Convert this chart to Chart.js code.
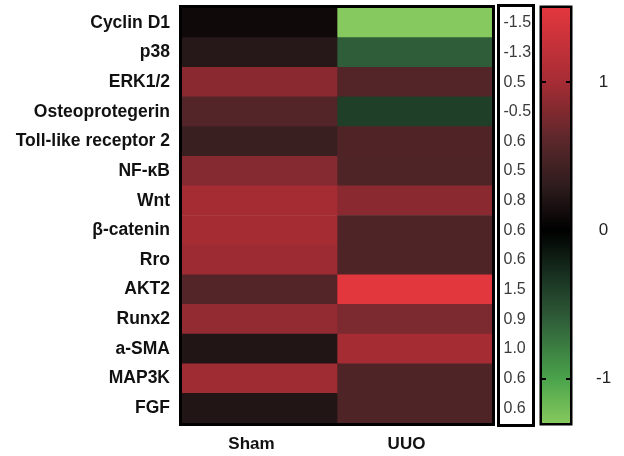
<!DOCTYPE html>
<html lang="en">
<head>
<meta charset="UTF-8">
<title>Heatmap Sham vs UUO</title>
<script src="https://cdn.jsdelivr.net/npm/chart.js"></script>
<style>
    body { margin: 0; background: #ffffff; }
    #wrap { position: relative; width: 624px; height: 456px; }
    #heat { position: absolute; left: 0; top: 0; }
    #bar { position: absolute; left: 536px; top: 0; }
</style>
</head>
<body>
<div id="wrap">
    <canvas id="heat" width="536" height="456"></canvas>
    <canvas id="bar" width="88" height="456"></canvas>
</div>
<script>
// data
const genes = ['Cyclin D1', 'p38', 'ERK1/2', 'Osteoprotegerin', 'Toll-like receptor 2', 'NF-κB', 'Wnt',
               'β-catenin', 'Rro', 'AKT2', 'Runx2', 'a-SMA', 'MAP3K', 'FGF'];
const groups = ['Sham', 'UUO'];
const shamValues = [0.1, 0.25, 0.85, 0.55, 0.38, 0.82, 1.0, 1.0, 0.95, 0.55, 0.9, 0.22, 0.97, 0.22];
const uuoValues = [-1.3, -0.6, 0.55, -0.4, 0.53, 0.52, 0.85, 0.52, 0.52, 1.5, 0.78, 1.0, 0.52, 0.52];
const foldLabels = ['-1.5', '-1.3', '0.5', '-0.5', '0.6', '0.5', '0.8', '0.6', '0.6', '1.5', '0.9', '1.0', '0.6', '0.6'];
const scaleTicks = [-1, 0, 1];
const scaleMin = -1.3;
const scaleMax = 1.5;

// colour scale (green - black - red)
const stopVals = [-1.3, -1.0, -0.6, -0.3, 0, 0.3, 0.6, 1.0, 1.5];
const stopCols = ['#86c95e', '#4aa34b', '#2f5d39', '#183020', '#000000', '#2e1c1d', '#5a272a', '#a62c34', '#e3373e'];

const FONT = "'Liberation Sans', Arial, sans-serif";

function hexRgb(h) {
    return [parseInt(h.slice(1, 3), 16), parseInt(h.slice(3, 5), 16), parseInt(h.slice(5, 7), 16)];
}

function colorFor(v) {
    v = Math.max(stopVals[0], Math.min(stopVals[stopVals.length - 1], v));
    for (let i = 0; i < stopVals.length - 1; i++) {
        if (v <= stopVals[i + 1]) {
            const t = (v - stopVals[i]) / (stopVals[i + 1] - stopVals[i]);
            const a = hexRgb(stopCols[i]), b = hexRgb(stopCols[i + 1]);
            const c = a.map((x, k) => Math.round(x + (b[k] - x) * t));
            return `rgb(${c[0]},${c[1]},${c[2]})`;
        }
    }
    return stopCols[stopCols.length - 1];
}

// no extra room for the end labels, the areas are fixed by layout padding
function fixWidth(w) {
    return s => { s.width = w; s.paddingTop = 0; s.paddingBottom = 0; };
}

const heatPlugin = {
    id: 'heatFrame',
    afterDraw(chart) {
        const ctx = chart.ctx;
        const a = chart.chartArea;
        const y = chart.scales.y;
        ctx.save();
        // frame round the heatmap
        ctx.strokeStyle = '#000';
        ctx.lineWidth = 3;
        ctx.strokeRect(a.left - 1.5, a.top - 1.5, a.right - a.left + 3, a.bottom - a.top + 3);
        // box with the fold values
        const bx = a.right + 6.5;
        ctx.fillStyle = '#fff';
        ctx.fillRect(bx, a.top - 2.5, 35, a.bottom - a.top + 5);
        ctx.strokeRect(bx, a.top - 2.5, 35, a.bottom - a.top + 5);
        ctx.fillStyle = '#3a3a3a';
        ctx.font = '16px ' + FONT;
        ctx.textAlign = 'left';
        ctx.textBaseline = 'middle';
        foldLabels.forEach((t, i) => {
            ctx.fillText(t, bx + 5, y.getPixelForValue(i));
        });
        ctx.restore();
    }
};

new Chart(document.getElementById('heat'), {
    type: 'bar',
    data: {
        labels: genes,
        datasets: [
            { label: groups[0], data: genes.map(() => [0, 1]), backgroundColor: shamValues.map(colorFor) },
            { label: groups[1], data: genes.map(() => [1, 2]), backgroundColor: uuoValues.map(colorFor) }
        ]
    },
    options: {
        indexAxis: 'y',
        responsive: false,
        animation: false,
        layout: { padding: { top: 8, right: 44, left: 0, bottom: 0 } },
        datasets: { bar: { grouped: false, barPercentage: 1, categoryPercentage: 1, borderWidth: 0 } },
        plugins: { legend: { display: false }, tooltip: { enabled: false } },
        scales: {
            x: {
                type: 'linear', min: 0, max: 2,
                grid: { display: false, drawTicks: false },
                border: { display: false },
                afterBuildTicks: s => { s.ticks = [{ value: 0.5 }, { value: 1.5 }]; },
                afterFit: s => { s.height = 33; s.paddingLeft = 0; s.paddingRight = 0; },
                ticks: {
                    padding: 11,
                    labelOffset: -8,
                    color: '#111',
                    font: { family: FONT, size: 17, weight: 'bold' },
                    callback: (v, i) => groups[i]
                }
            },
            y: {
                grid: { display: false, drawTicks: false },
                border: { display: false },
                afterFit: fixWidth(182),
                ticks: {
                    padding: 12,
                    color: '#111',
                    autoSkip: false,
                    font: { family: FONT, size: 17.5, weight: 'bold' }
                }
            }
        }
    },
    plugins: [heatPlugin]
});

const barPlugin = {
    id: 'colorBar',
    beforeDatasetsDraw(chart) {
        const ctx = chart.ctx;
        const a = chart.chartArea;
        const y = chart.scales.y;
        const g = ctx.createLinearGradient(0, a.top, 0, a.bottom);
        stopVals.forEach((v, i) => {
            const p = (y.getPixelForValue(v) - a.top) / (a.bottom - a.top);
            g.addColorStop(Math.max(0, Math.min(1, p)), stopCols[i]);
        });
        ctx.save();
        ctx.fillStyle = g;
        ctx.fillRect(a.left, a.top, a.right - a.left, a.bottom - a.top);
        // little tick marks inside the bar
        ctx.strokeStyle = '#000';
        ctx.lineWidth = 2;
        scaleTicks.forEach(v => {
            const py = Math.round(y.getPixelForValue(v));
            ctx.beginPath();
            ctx.moveTo(a.left, py); ctx.lineTo(a.left + 4, py);
            ctx.moveTo(a.right - 4, py); ctx.lineTo(a.right, py);
            ctx.stroke();
        });
        ctx.lineWidth = 2.5;
        ctx.strokeRect(a.left - 1.25, a.top - 1.25, a.right - a.left + 2.5, a.bottom - a.top + 2.5);
        ctx.restore();
    }
};

new Chart(document.getElementById('bar'), {
    type: 'scatter',
    data: { datasets: [{ data: [] }] },
    options: {
        responsive: false,
        animation: false,
        layout: { padding: { top: 8, bottom: 33, left: 6, right: 0 } },
        plugins: { legend: { display: false }, tooltip: { enabled: false } },
        scales: {
            x: { display: false, min: 0, max: 1 },
            y: {
                position: 'right',
                min: scaleMin, max: scaleMax,
                grid: { display: false, drawTicks: false },
                border: { display: false },
                afterBuildTicks: s => { s.ticks = scaleTicks.map(v => ({ value: v })); },
                afterFit: fixWidth(54),
                ticks: {
                    padding: 26,
                    crossAlign: 'center',
                    color: '#222',
                    font: { family: FONT, size: 17 }
                }
            }
        }
    },
    plugins: [barPlugin]
});
</script>
</body>
</html>
